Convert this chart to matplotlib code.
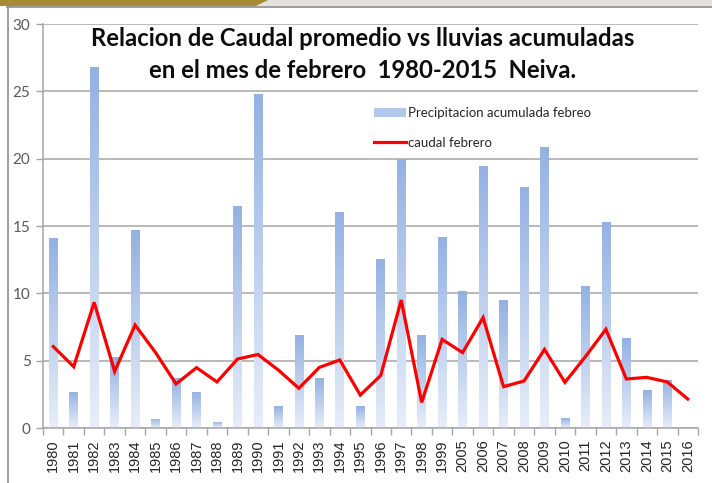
import numpy as np
import matplotlib
matplotlib.use("Agg")
import matplotlib.pyplot as plt
from matplotlib.patches import Rectangle, Polygon
from matplotlib.colors import LinearSegmentedColormap
from matplotlib.lines import Line2D
from matplotlib.patches import Patch

years = ["1980", "1981", "1982", "1983", "1984", "1985", "1986", "1987", "1988", "1989",
         "1990", "1991", "1992", "1993", "1994", "1995", "1996", "1997", "1998", "1999",
         "2005", "2006", "2007", "2008", "2009", "2010", "2011", "2012", "2013", "2014",
         "2015", "2016"]
precipitacion = [14.1, 2.7, 26.8, 5.3, 14.7, 0.7, 3.7, 2.7, 0.45, 16.5,
                 24.8, 1.6, 6.9, 3.75, 16.05, 1.6, 12.55, 20.0, 6.9, 14.2,
                 10.15, 19.45, 9.5, 17.9, 20.9, 0.72, 10.55, 15.3, 6.65, 2.8,
                 3.55, 0.0]
caudal = [6.05, 4.55, 9.33, 4.2, 7.65, 5.6, 3.27, 4.48, 3.42, 5.12,
          5.46, 4.3, 2.95, 4.5, 5.05, 2.45, 3.9, 9.5, 1.9, 6.58,
          5.6, 8.2, 3.07, 3.49, 5.84, 3.39, 5.3, 7.33, 3.64, 3.76,
          3.42, 2.15]
yticks = [0, 5, 10, 15, 20, 25, 30]
title = "Relacion de Caudal promedio vs lluvias acumuladas\nen el mes de febrero  1980-2015  Neiva."
label_bar = "Precipitacion acumulada febreo"
label_line = "caudal febrero"

W, H = 712, 483
fig = plt.figure(figsize=(W / 100, H / 100), dpi=100)
fig.patch.set_facecolor("white")

# decorative slide background strip at top
bg = fig.add_axes([0, 0, 1, 1], zorder=-5)
bg.set_xlim(0, W); bg.set_ylim(H, 0); bg.axis("off")
bg.add_patch(Rectangle((0, 0), W, 6, color="#e4e2de", lw=0))
bg.add_patch(Polygon([(0, 0), (268, 0), (256, 6), (0, 6)], closed=True, color="#a88a32", lw=0))
bg.plot([7, W], [6.5, 6.5], color="#8c8c8c", lw=1.2)
bg.plot([7.5, 7.5], [6.5, H], color="#8c8c8c", lw=1.2)

ax = fig.add_axes([43 / W, 1 - 428 / H, (698 - 43) / W, (428 - 24) / H])
x = np.arange(len(years))
bw = 0.42
bars = ax.bar(x, precipitacion, width=bw, color="none", zorder=2)

cmap = LinearSegmentedColormap.from_list("g", ["#e8eef9", "#93b1e2"])
grad = np.linspace(0, 1, 256).reshape(-1, 1)
for b in bars:
    h = b.get_height()
    if h <= 0:
        continue
    x0 = b.get_x()
    im = ax.imshow(grad, cmap=cmap, origin="lower", aspect="auto",
                   extent=[x0, x0 + b.get_width(), 0, h], zorder=2)
    im.set_clip_path(b)

ax.plot(x, caudal, color="#ff0000", lw=2.3, zorder=3, solid_joinstyle="miter")

ax.set_xlim(-0.5, len(years) - 0.5)
ax.set_ylim(0, 30)
ax.set_yticks(yticks)
ax.set_yticklabels([str(v) for v in yticks], fontsize=11, color="#595959", family="Lato")
ax.yaxis.grid(True, color="#a6a6a6", lw=1.1, zorder=0)
ax.set_axisbelow(True)

ax.set_xticks(x)
ax.set_xticklabels(years, rotation=90, fontsize=10.5, family="Liberation Sans", color="#262626")
ax.set_xticks(np.arange(-0.5, len(years), 1), minor=True)
ax.tick_params(axis="x", which="major", length=0, pad=8)
ax.tick_params(axis="x", which="minor", length=5, color="#a6a6a6", width=1)
ax.tick_params(axis="y", length=5, color="#a6a6a6", width=1, pad=4)

for s in ["top", "right"]:
    ax.spines[s].set_visible(False)
for s in ["left", "bottom"]:
    ax.spines[s].set_color("#a6a6a6")
    ax.spines[s].set_linewidth(1.1)

ax.text((363 - 43) / (698 - 43), 1 - (27 - 24) / 404, title, transform=ax.transAxes,
        ha="center", va="top",
        fontsize=17.2, fontweight="bold", family="Lato", color="#0d0d0d",
        linespacing=1.5, zorder=5)

handles = [Patch(facecolor="#b4c8ec", edgecolor="none"),
           Line2D([0], [0], color="#ff0000", lw=2.3)]
leg = ax.legend(handles, [label_bar, label_line], loc="upper left",
                bbox_to_anchor=((362 - 43) / (698 - 43), 1 - (95 - 24) / 404),
                frameon=False, prop={"family": "Lato", "size": 9.5},
                handlelength=2.4, handletextpad=0.15, labelspacing=1.35,
                labelcolor="#262626")

fig.savefig("out.png", dpi=100)
